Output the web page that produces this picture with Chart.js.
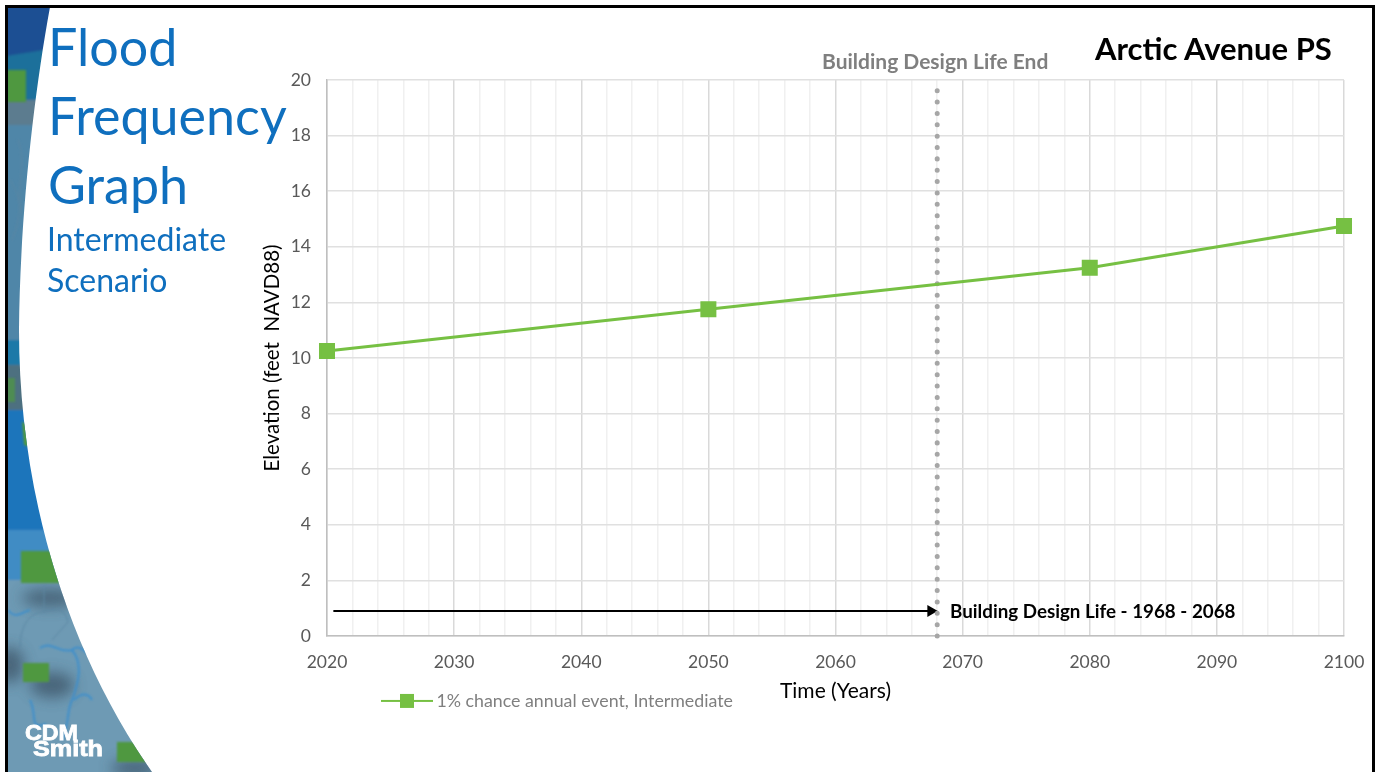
<!DOCTYPE html>
<html>
<head>
<meta charset="utf-8">
<title>Flood Frequency Graph</title>
<script src="https://cdn.jsdelivr.net/npm/chart.js@4"></script>
<style>
  html, body { margin: 0; padding: 0; background: #fff; overflow: hidden; }
  #slide { position: relative; width: 1377px; height: 772px; font-family: Lato, "Open Sans", sans-serif; }
  #frame { position: absolute; left: 5px; top: 5px; width: 1364px; height: 780px; border: 3px solid #000; }
  #band, #flood { position: absolute; left: 0; top: 0; }
  .txt { position: absolute; white-space: nowrap; line-height: 1; }
  .head { color: #0f6fbe; font-size: 52px; left: 48px; }
  .sub { color: #0f6fbe; font-size: 32px; left: 47px; }
  .note { font-weight: 700; }
</style>
</head>
<body>
<div id="slide">
  <!-- map strip down the left edge -->
  <svg id="band" width="1377" height="772">
    <defs>
      <clipPath id="bandClip"><path d="M7,7 L50,7 C33,100 20,220 19,330 C19,480 60,640 152,772 L7,772 Z"/></clipPath>
      <filter id="soft"><feGaussianBlur stdDeviation="1.2"/></filter>
      <filter id="softer"><feGaussianBlur stdDeviation="7"/></filter>
    </defs>
    <g clip-path="url(#bandClip)">
      <g filter="url(#soft)">
        <rect x="0" y="0" width="70" height="130" fill="#1d6f9b"/>
        <path d="M0,0 L60,0 L44,50 L0,57 Z" fill="#1a4f93"/>
        <rect x="0" y="100" width="70" height="30" fill="#5b7b8f"/>
        <rect x="0" y="125" width="70" height="225" fill="#4f86a8"/>
        <rect x="0" y="340" width="70" height="25" fill="#1f79a8"/>
        <rect x="0" y="365" width="70" height="50" fill="#4d6f80"/>
        <rect x="0" y="410" width="90" height="125" fill="#1b75bb"/>
        <rect x="0" y="530" width="90" height="55" fill="#3f8cc4"/>
        <rect x="0" y="580" width="170" height="200" fill="#6e9ab4"/>
      </g>
      <g filter="url(#softer)" fill="#3e5468" opacity="0.75">
        <ellipse cx="50" cy="598" rx="28" ry="9"/>
        <ellipse cx="10" cy="665" rx="14" ry="18"/>
        <ellipse cx="52" cy="685" rx="22" ry="13"/>
        <ellipse cx="135" cy="768" rx="24" ry="9"/>
      </g>
      <g fill="none" stroke="#5a86a2" stroke-width="1" filter="url(#soft)">
        <path d="M44,585 L44,612 C28,612 20,628 20,648"/>
        <path d="M44,612 C60,606 66,612 68,622 L52,640"/>
        <path d="M18,140 C28,165 14,190 22,214"/>
        <path d="M10,180 C20,196 24,210 12,240"/>
      </g>
      <g fill="none" stroke="#3f8fcb" stroke-width="2" filter="url(#soft)">
        <path d="M40,648 C52,640 58,654 72,650 C84,664 78,684 72,700 C66,712 70,724 62,740"/>
        <path d="M72,650 C82,640 92,664 100,660"/>
        <path d="M30,700 C38,716 28,730 46,724"/>
        <path d="M74,700 C84,690 90,696 92,700"/>
        <path d="M8,610 C16,620 22,612 30,610"/>
      </g>
      <g filter="url(#soft)" fill="#4f983f">
        <rect x="7" y="70" width="19" height="32"/>
        <path d="M22,422 L30,425 L30,447 L24,445 Z"/>
        <rect x="7" y="378" width="8" height="24" opacity="0.7"/>
        <rect x="21" y="551" width="42" height="32"/>
        <rect x="23" y="663" width="26" height="19"/>
        <rect x="117" y="742" width="34" height="20"/>
      </g>
    </g>
    <g fill="#fff" font-family="'Liberation Sans', Arial, sans-serif" font-weight="700" font-size="22" stroke="#fff" stroke-width="0.8">
      <text x="25" y="740" textLength="53" lengthAdjust="spacingAndGlyphs">CDM</text>
      <text x="33" y="756" textLength="70" lengthAdjust="spacingAndGlyphs">Smith</text>
    </g>
  </svg>
  <div id="frame"></div>

  <canvas id="flood" width="1377" height="772"></canvas>

  <div class="txt head" style="top:20px">Flood</div>
  <div class="txt head" style="top:89px">Frequency</div>
  <div class="txt head" style="top:158px">Graph</div>
  <div class="txt sub" style="top:223px">Intermediate</div>
  <div class="txt sub" style="top:264px">Scenario</div>
  <div class="txt note" style="left:1095px;top:33px;font-size:31px;color:#000">Arctic Avenue PS</div>
  <div class="txt note" style="left:822px;top:50px;font-size:21px;color:#7f7f7f">Building Design Life End</div>
  <div class="txt note" style="left:950px;top:602px;font-size:18.8px;color:#000">Building Design Life - 1968 - 2068</div>
</div>

<script>
// 1% chance flood elevations, intermediate scenario
const years = [2020, 2050, 2080, 2100];
const floodElevation = [10.25, 11.75, 13.25, 14.75];

// dotted marker at the end of the building design life
const designEndYear = [2068, 2068];
const designEndElevation = [0, 19.8];

// arrow running along the design life
const arrowYears = [2020.5, 2067.5];
const arrowElevation = [0.9, 0.9];

const seriesName = "1% chance annual event, Intermediate";
const lineGreen = "#76c043";

// legend swatch: short line with the square marker on it
function legendSwatch() {
  const c = document.createElement("canvas");
  c.width = 52;
  c.height = 16;
  const g = c.getContext("2d");
  g.fillStyle = lineGreen;
  g.fillRect(0, 7, 52, 2);
  g.fillRect(19, 1, 14, 14);
  return c;
}

// legend sits under the plot, left of the axis title
const placeLegend = {
  id: "placeLegend",
  afterLayout(chart) {
    const lg = chart.legend;
    lg.left = 380.5;
    lg.right = 760;
    lg.top = 686;
    lg.bottom = 713;
  },
};

new Chart(document.getElementById("flood"), {
  type: "line",
  plugins: [placeLegend],
  data: {
    datasets: [
      {
        label: seriesName,
        data: years.map((y, i) => ({ x: y, y: floodElevation[i] })),
        borderColor: lineGreen,
        backgroundColor: lineGreen,
        borderWidth: 3,
        pointStyle: "rect",
        pointRadius: 9.2,
        tension: 0,
        clip: false,
      },
      {
        label: "Building Design Life End",
        data: designEndYear.map((y, i) => ({ x: y, y: designEndElevation[i] })),
        borderColor: "#a6a6a6",
        borderWidth: 5,
        borderDash: [0.01, 11.35],
        borderCapStyle: "round",
        pointRadius: 0,
        clip: false,
      },
      {
        label: "Building Design Life",
        data: arrowYears.map((y, i) => ({ x: y, y: arrowElevation[i] })),
        borderColor: "#000",
        backgroundColor: "#000",
        borderWidth: 2,
        pointStyle: "triangle",
        pointRotation: 90,
        pointRadius: [0, 5],
      },
    ],
  },
  options: {
    responsive: false,
    animation: false,
    layout: { padding: { left: 0, right: 33, top: 80, bottom: 0 } },
    plugins: {
      tooltip: { enabled: false },
      legend: {
        position: "chartArea",
        align: "start",
        labels: {
          font: { family: "Lato", size: 17.8 },
          color: "#7f7f7f",
          padding: 6,
          usePointStyle: true,
          pointStyleWidth: 41,
          generateLabels: () => [
            { text: seriesName, pointStyle: legendSwatch(), fontColor: "#7f7f7f", lineWidth: 0, datasetIndex: 0 },
          ],
        },
      },
    },
    scales: {
      x: {
        type: "linear",
        min: 2020,
        max: 2100,
        afterFit: (s) => { s.height = 136; s.paddingLeft = 0; s.paddingRight = 0; },
        ticks: {
          stepSize: 2,
          autoSkip: false,
          maxRotation: 0,
          padding: 16,
          color: "#595959",
          font: { family: "Lato", size: 17.5 },
          callback: (v) => (v % 10 === 0 ? String(v) : ""),
        },
        grid: {
          drawTicks: false,
          lineWidth: 1.5,
          color: (ctx) => (ctx.tick && ctx.tick.value % 10 === 0 ? "#d9d9d9" : "#f0f0f0"),
        },
        border: { color: "#bfbfbf", width: 1.5 },
        title: {
          display: true,
          text: "Time (Years)",
          color: "#000",
          font: { family: "Lato", size: 21 },
          padding: { bottom: 68 },
        },
      },
      y: {
        min: 0,
        max: 20,
        afterFit: (s) => { s.width = 327; },
        ticks: {
          stepSize: 2,
          padding: 16,
          color: "#595959",
          font: { family: "Lato", size: 17.5 },
        },
        grid: { drawTicks: false, color: "#e0e0e0", lineWidth: 1.5 },
        border: { color: "#bfbfbf", width: 1.5 },
        title: {
          display: true,
          text: "Elevation (feet  NAVD88)",
          color: "#000",
          font: { family: "Lato", size: 20.5 },
          padding: { top: 260 },
        },
      },
    },
  },
});
</script>
</body>
</html>
